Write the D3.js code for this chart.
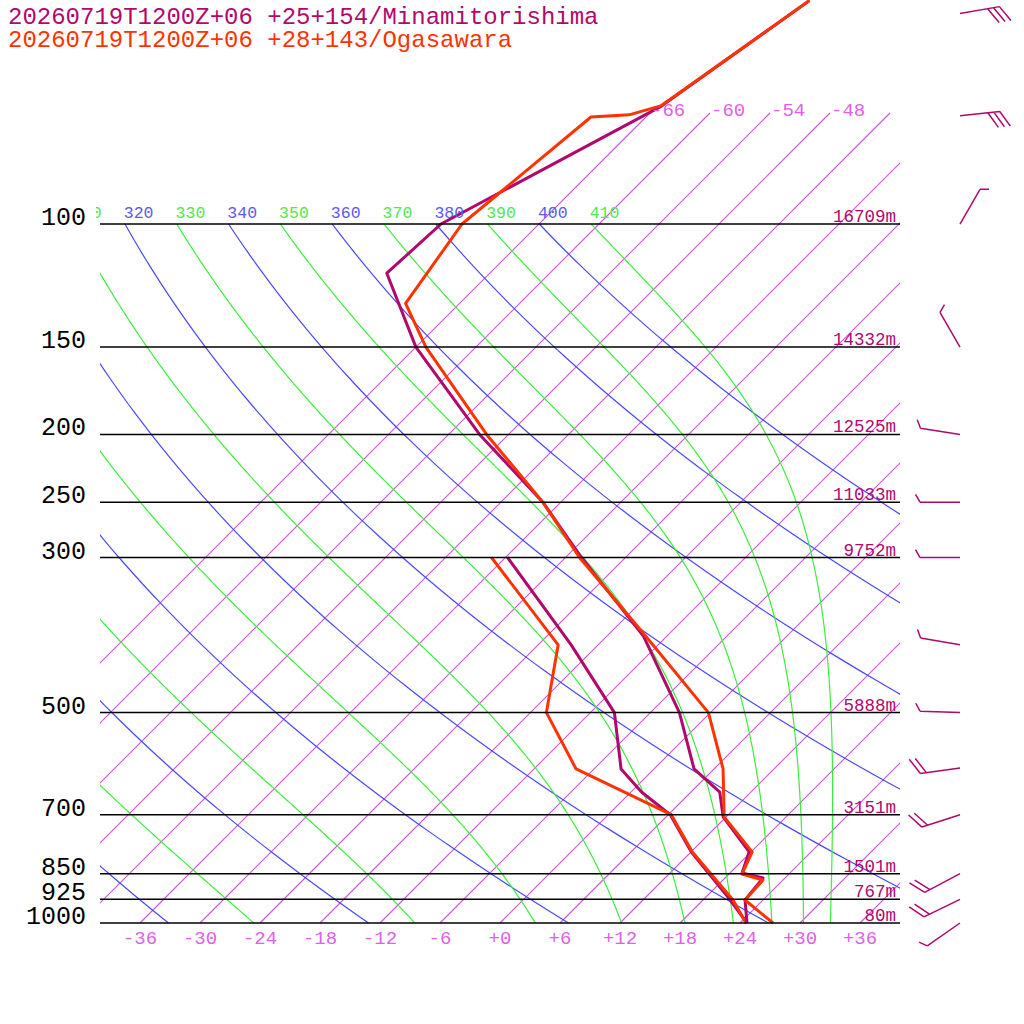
<!DOCTYPE html>
<html>
<head>
<meta charset="utf-8">
<script src="https://cdn.jsdelivr.net/npm/d3@7"></script>
<style>
  body { margin: 0; background: #fff; }
  text { font-family: "Liberation Mono", "DejaVu Sans Mono", monospace; }
</style>
</head>
<body>
<svg id="chart" width="1024" height="1024"></svg>
<script>
// Titles
var titles = ["20260719T1200Z+06 +25+154/Minamitorishima", "20260719T1200Z+06 +28+143/Ogasawara"];
var colors = ["#b0086c", "#ff3300"];

// Pressure levels with heights
var levels = [100, 150, 200, 250, 300, 500, 700, 850, 925, 1000];
var heights = ["16709m", "14332m", "12525m", "11033m", "9752m", "5888m", "3151m", "1501m", "767m", "80m"];

// Minamitorishima: temperature and dew point [hPa, degC]
var mina_p = [47.9, 68, 100, 117.6, 150, 200, 250, 300, 389, 500, 602, 650, 705, 791, 848, 862, 927, 1000];
var mina_t = [-61.3, -65.6, -75.8, -76.3, -66.0, -50.9, -37.8, -28.4, -14.3, -3.1, 4.0, 8.9, 11.7, 17.8, 19.2, 21.8, 22.2, 24.7];
var mina_dp = [300, 400, 500, 602, 650, 700, 791, 918, 1000];
var mina_td = [-35.8, -20.7, -9.6, -3.3, 1.1, 6.2, 12.0, 20.2, 24.7];

// Ogasawara: temperature and dew point
var oga_p = [47.9, 67.7, 69.8, 70.3, 100, 129.9, 150, 200, 250, 300, 386, 500, 602, 705, 791, 851, 868, 927, 1000];
var oga_t = [-61.3, -65.6, -67.9, -71.5, -73.7, -71.4, -65.0, -50.2, -37.8, -28.6, -14.5, -0.2, 6.9, 11.8, 18.1, 19.3, 22.0, 22.2, 27.3];
var oga_dp = [300, 400, 500, 602, 700, 791, 927, 1000];
var oga_td = [-37.4, -22.0, -16.4, -7.8, 6.3, 12.1, 21.0, 24.6];

// Winds (Minamitorishima): pressure, direction deg, speed kt
var wind_p = [50, 70, 100, 150, 200, 250, 300, 400, 500, 600, 700, 850, 925, 1000];
var wind_dir = [80, 84, 30, 330, 279, 270, 270, 280, 272, 262, 252, 242, 244, 235];
var wind_kt = [30, 30, 5, 5, 5, 5, 5, 5, 5, 20, 20, 20, 20, 5];

// Background line families
var isotherms = d3.range(-66, 37, 6);
var isoLabels = [-66, -60, -54, -48];
var tempTicks = d3.range(-36, 37, 6);
var dryThetas = d3.range(240, 401, 20);
var dryLabels = [320, 340, 360, 380, 400];
var moistThetas = d3.range(250, 411, 20);
var moistLabels = [310, 330, 350, 370, 390, 410];

var svg = d3.select("#chart");
var y = d3.scaleLog().domain([1000, 100]).range([923, 224]);
var xT = d3.scaleLinear().domain([-36, 36]).range([140, 860]);
function sx(t, p) { return xT(t) + (923 - y(p)); }

var defs = svg.append("defs");
defs.append("clipPath").attr("id", "plot").append("rect").attr("x", 100).attr("y", 0).attr("width", 800).attr("height", 924);
defs.append("clipPath").attr("id", "lab").append("rect").attr("x", 96).attr("y", 0).attr("width", 804).attr("height", 924);

var g = svg.append("g").attr("clip-path", "url(#plot)");
var line = d3.line().x(function(d){ return sx(d[1], d[0]); }).y(function(d){ return y(d[0]); });

// isotherms
var pTop = y.invert(113);
isotherms.forEach(function(t){
  g.append("path").attr("d", line([[1000, t], [pTop, t]]))
    .attr("stroke", "#d050e0").attr("stroke-width", 1.1).attr("fill", "none");
});

// dry adiabats
var pGrid = d3.range(0, 101).map(function(i){ return 1000 * Math.pow(0.1, i / 100); });
dryThetas.forEach(function(th){
  var pts = pGrid.map(function(p){ return [p, th * Math.pow(p / 1000, 0.2857) - 273.15]; });
  g.append("path").attr("d", line(pts)).attr("stroke", "#4848ff").attr("stroke-width", 1.2).attr("fill", "none");
});

// moist adiabats, integrated down from 100 hPa
function rs(T, p) {
  var tc = T - 273.15;
  var es = 6.112 * Math.exp(17.67 * tc / (tc + 243.5));
  return 0.622 * es / (p - es);
}
function dTdlnp(T, p) {
  var Rd = 287.04, cp = 1005.7, Lv = 2.501e6, r = rs(T, p);
  return (Rd * T + Lv * r) / (cp + Lv * Lv * r * 0.622 / (Rd * T * T));
}
moistThetas.forEach(function(th){
  var T = th * Math.pow(0.1, 0.2857), p = 100, pts = [[p, T - 273.15]];
  var n = 300, h = Math.log(10) / n;
  for (var i = 0; i < n; i++) {
    var k1 = dTdlnp(T, p), pm = p * Math.exp(h / 2);
    var k2 = dTdlnp(T + k1 * h / 2, pm);
    var k3 = dTdlnp(T + k2 * h / 2, pm);
    var pn = p * Math.exp(h);
    var k4 = dTdlnp(T + k3 * h, pn);
    T += h * (k1 + 2 * k2 + 2 * k3 + k4) / 6;
    p = pn;
    pts.push([p, T - 273.15]);
  }
  g.append("path").attr("d", line(pts)).attr("stroke", "#3cee3c").attr("stroke-width", 1.2).attr("fill", "none");
});

// pressure lines
levels.forEach(function(p){
  svg.append("line").attr("x1", 100).attr("x2", 900).attr("y1", y(p)).attr("y2", y(p))
    .attr("stroke", "#000").attr("stroke-width", 1.5);
});

// profiles
function profile(ps, ts, c) {
  g.append("path").attr("d", line(ps.map(function(p, i){ return [p, ts[i]]; })))
    .attr("stroke", c).attr("stroke-width", 3).attr("fill", "none").attr("stroke-linejoin", "round");
}
profile(mina_dp, mina_td, colors[0]);
profile(oga_dp, oga_td, colors[1]);
profile(mina_p, mina_t, colors[0]);
profile(oga_p, oga_t, colors[1]);

// labels
var lg = svg.append("g").attr("clip-path", "url(#lab)");
dryLabels.forEach(function(th){
  lg.append("text").attr("x", sx(th * 0.5176 - 273.15, 100)).attr("y", 218)
    .attr("font-size", 16.5).attr("fill", "#5a5af0").text(th);
});
moistLabels.forEach(function(th){
  lg.append("text").attr("x", sx(th * 0.5176 - 273.15, 100)).attr("y", 218)
    .attr("font-size", 16.5).attr("fill", "#50e850").text(th);
});
isoLabels.forEach(function(t){
  svg.append("text").attr("x", sx(t, pTop) + 1).attr("y", 116)
    .attr("font-size", 19).attr("fill", "#e060e8").text(t);
});
tempTicks.forEach(function(t){
  svg.append("text").attr("x", xT(t)).attr("y", 944).attr("text-anchor", "middle")
    .attr("font-size", 19).attr("fill", "#e060e8").text((t >= 0 ? "+" : "") + t);
});
levels.forEach(function(p, i){
  svg.append("text").attr("x", 86).attr("y", y(p) + 1).attr("text-anchor", "end")
    .attr("font-size", 25).attr("fill", "#000").text(p);
  svg.append("text").attr("x", 896).attr("y", y(p) - 2).attr("text-anchor", "end")
    .attr("font-size", 17.5).attr("fill", colors[0]).text(heights[i]);
});
titles.forEach(function(t, i){
  svg.append("text").attr("x", 8).attr("y", 24 + i * 23)
    .attr("font-size", 24).attr("fill", colors[i]).text(t);
});

// wind barbs
wind_p.forEach(function(p, i){
  var ax = 960, ay = y(p), a = wind_dir[i] * Math.PI / 180;
  var ux = Math.sin(a), uy = -Math.cos(a);
  var L = 40, bx = ux * Math.cos(Math.PI / 3) - uy * Math.sin(Math.PI / 3);
  var by = ux * Math.sin(Math.PI / 3) + uy * Math.cos(Math.PI / 3);
  var path = d3.path();
  path.moveTo(ax, ay); path.lineTo(ax + ux * L, ay + uy * L);
  var s = wind_kt[i], pos = L;
  while (s >= 10) {
    var px = ax + ux * pos, py = ay + uy * pos;
    path.moveTo(px, py); path.lineTo(px + bx * 18, py + by * 18);
    s -= 10; pos -= 6;
  }
  if (s >= 5) {
    var qx = ax + ux * pos, qy = ay + uy * pos;
    path.moveTo(qx, qy); path.lineTo(qx + bx * 9, qy + by * 9);
  }
  svg.append("path").attr("d", path.toString()).attr("stroke", colors[0])
    .attr("stroke-width", 1.5).attr("fill", "none");
});
</script>
</body>
</html>
